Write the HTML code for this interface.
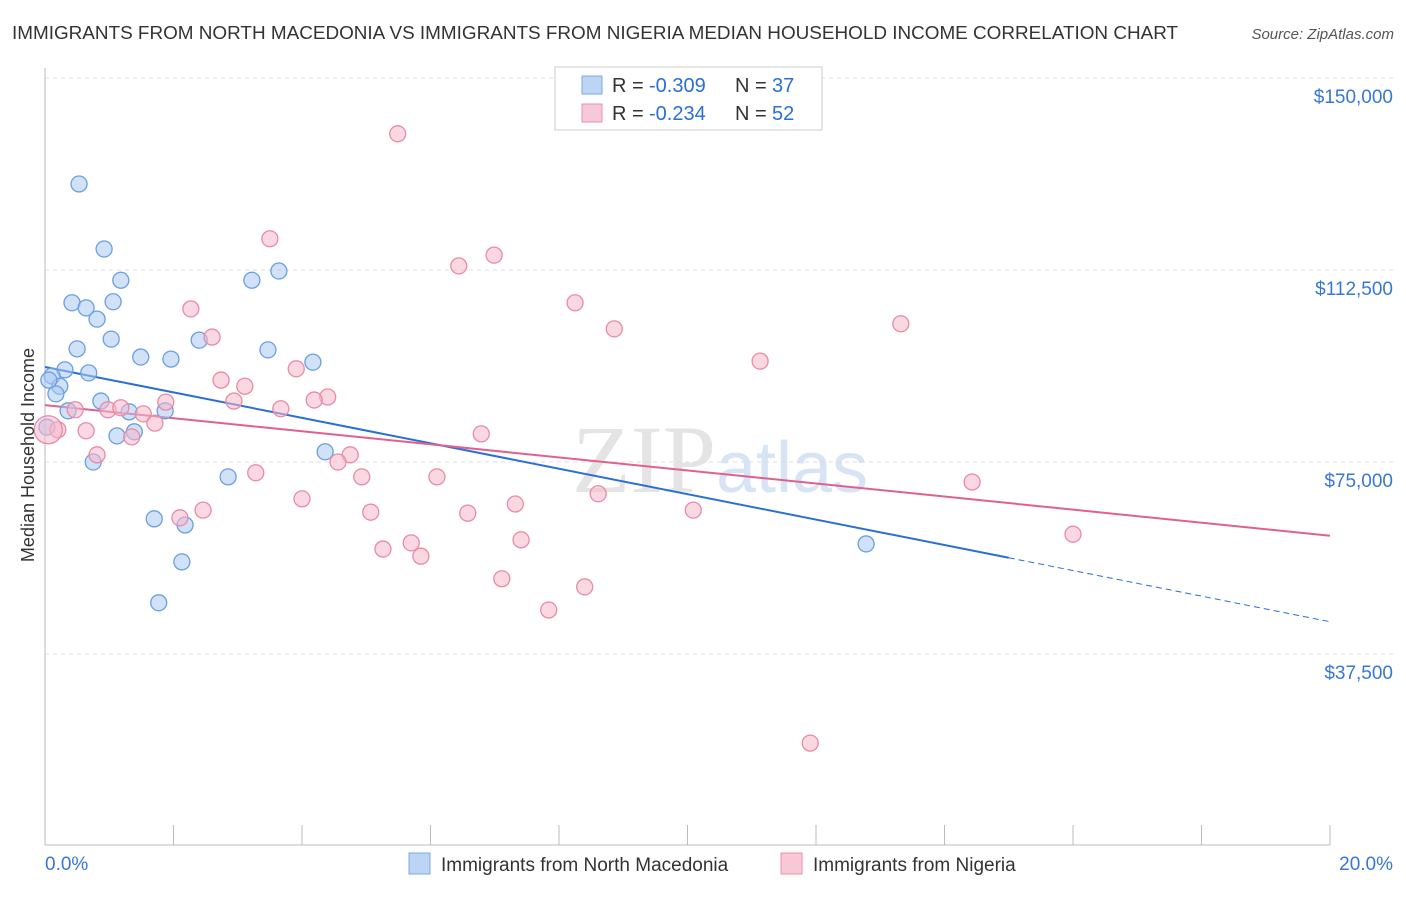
<!DOCTYPE html>
<html><head><meta charset="utf-8"><style>
body{margin:0;background:#fff;font-family:"Liberation Sans",sans-serif;}
</style></head><body>
<svg id="chart" width="1406" height="892" xmlns="http://www.w3.org/2000/svg" font-family="Liberation Sans, sans-serif">
<text x="12" y="39" font-size="18.9" fill="#333">IMMIGRANTS FROM NORTH MACEDONIA VS IMMIGRANTS FROM NIGERIA MEDIAN HOUSEHOLD INCOME CORRELATION CHART</text>
<text x="1394" y="39" font-size="15" fill="#555" text-anchor="end" font-style="italic">Source: ZipAtlas.com</text>
<text x="720" y="492" font-size="96" text-anchor="middle" fill="#e4e4e4" font-family="Liberation Serif, serif">ZIP<tspan fill="#d6e4f5" font-family="Liberation Sans, sans-serif" font-size="72">atlas</tspan></text>
<g id="grid"></g><g id="axes"></g><g id="lines"></g><g id="points"></g>
<text transform="translate(34,455) rotate(-90)" font-size="18" fill="#333" text-anchor="middle">Median Household Income</text>
<g>
<rect x="555" y="67" width="267" height="63" fill="#fff" stroke="#ccc"/>
<rect x="582" y="76" width="20" height="18" fill="#bcd5f5" stroke="#7aa7e3"/>
<text x="612" y="92" font-size="20" fill="#333">R =</text>
<text x="649" y="92" font-size="20" fill="#2a6fd6">-0.309</text>
<text x="735" y="92" font-size="20" fill="#333">N =</text>
<text x="772" y="92" font-size="20" fill="#2a6fd6">37</text>
<rect x="582" y="104" width="20" height="18" fill="#f9c8d6" stroke="#e892ae"/>
<text x="612" y="120" font-size="20" fill="#333">R =</text>
<text x="649" y="120" font-size="20" fill="#2a6fd6">-0.234</text>
<text x="735" y="120" font-size="20" fill="#333">N =</text>
<text x="772" y="120" font-size="20" fill="#2a6fd6">52</text>
</g>
<g>
<rect x="409" y="853" width="21" height="21" fill="#bcd5f5" stroke="#7aa7e3"/>
<text x="441" y="871" font-size="19" fill="#333">Immigrants from North Macedonia</text>
<rect x="781" y="853" width="21" height="21" fill="#f9c8d6" stroke="#e892ae"/>
<text x="813" y="871" font-size="19" fill="#333">Immigrants from Nigeria</text>
</g>
</svg>
<script>
const yTicks=[150000,112500,75000,37500];
const yTickLabels=["$150,000","$112,500","$75,000","$37,500"];
const xTickValues=[0,2,4,6,8,10,12,14,16,18,20];
const blueX=[0.53,0.92,1.18,0.42,0.64,1.06,0.81,1.03,0.50,1.49,1.96,2.40,3.22,3.64,3.47,4.17,0.31,0.68,0.11,0.23,0.17,0.87,0.36,1.31,1.87,1.12,1.39,0.03,0.75,2.85,4.36,1.70,2.18,2.13,1.77,12.78,0.06];
const blueY=[129300,116600,110500,106100,105100,106300,102900,99000,97100,95500,95100,98800,110500,112300,96900,94500,93000,92400,91800,89800,88300,86900,85000,84800,85000,80100,80900,81800,75000,72100,77000,63900,62700,55500,47500,59000,91000];
const pinkX=[5.49,3.50,6.99,6.44,8.25,8.86,13.32,2.27,2.60,11.13,3.91,2.74,3.11,2.94,4.40,4.19,1.88,3.67,0.98,1.18,1.53,1.71,0.47,0.20,0.64,1.35,6.79,0.81,4.75,4.56,3.28,4.93,6.10,4.00,8.61,7.32,6.58,5.07,10.09,2.46,2.10,14.43,16.00,7.41,5.70,5.26,5.85,7.11,8.40,7.84,11.91,0.05];
const pinkY=[139100,118600,115400,113300,106100,101000,102000,104900,99400,94700,93200,91000,89800,86900,87700,87100,86700,85400,85200,85600,84400,82600,85200,81300,81100,79900,80500,76400,76400,75000,72900,72100,72100,67800,68800,66800,65000,65200,65600,65600,64100,71100,60900,59800,59200,58000,56600,52200,50600,46100,20100,81300];
const blueTrend=[93560,56300,43800]; // at 0%, 15%, 20%
const pinkTrend=[86100,60600]; // at 0%, 20%
const X=p=>45+p/20*1285;
const Y=v=>78+(150000-v)/37500*192;
const NS="http://www.w3.org/2000/svg";
function mk(tag,attrs,parent){const e=document.createElementNS(NS,tag);for(const k in attrs)e.setAttribute(k,attrs[k]);document.getElementById(parent).appendChild(e);return e;}
yTicks.forEach((v,i)=>{
 const l=mk('line',{x1:45,x2:1394,y1:Y(v),y2:Y(v),stroke:'#ddd','stroke-dasharray':'4,4'},'grid');
 
 
 const t=mk('text',{x:1393,y:Y(v)+25,'font-size':19,fill:'#3a76d4','text-anchor':'end'},'grid');
 t.textContent=yTickLabels[i];
 
 
});
const ax=mk('line',{x1:45,x2:1330,y1:845,y2:845,stroke:'#bbb'},'axes');


const ay=mk('line',{x1:45,x2:45,y1:68,y2:845,stroke:'#bbb'},'axes');


xTickValues.forEach(p=>{
 const t=mk('line',{x1:X(p),x2:X(p),y1:825,y2:845,stroke:'#bbb'},'axes');
 
 
});
[[0,"0.0%","start",45],[20,"20.0%","end",1393]].forEach(a=>{
 const t=mk('text',{x:a[3],y:870,'font-size':19,fill:'#3a76d4','text-anchor':a[2]},'axes');
 t.textContent=a[1];
 
 
});
function pts(xs,ys,fill,stroke,name){
 xs.forEach((x,i)=>{
  const big=(i===xs.length-1&&name==='pink-point');
  const c=mk('circle',{cx:X(x),cy:Y(ys[i]),r:big?14:8,fill:fill,'fill-opacity':0.55,stroke:stroke,'stroke-width':1.3},'points');
  
  
 });
}
pts(blueX,blueY,'#a9c9f2','#6a9fe0','blue-point');
pts(pinkX,pinkY,'#f5b8cb','#e88aa8','pink-point');
let l=mk('line',{x1:X(0),y1:Y(blueTrend[0]),x2:X(15),y2:Y(blueTrend[1]),stroke:'#2a6fd6','stroke-width':2},'lines');


l=mk('line',{x1:X(15),y1:Y(blueTrend[1]),x2:X(20),y2:Y(blueTrend[2]),stroke:'#2a6fd6','stroke-width':1,'stroke-dasharray':'6,4'},'lines');


l=mk('line',{x1:X(0),y1:Y(pinkTrend[0]),x2:X(20),y2:Y(pinkTrend[1]),stroke:'#e0608f','stroke-width':2},'lines');


</script>
</body></html>
